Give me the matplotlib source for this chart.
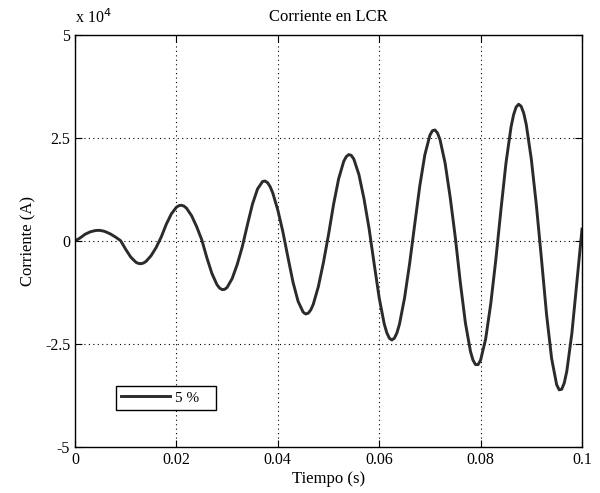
import matplotlib
matplotlib.use("Agg")
import matplotlib.pyplot as plt
from matplotlib.ticker import FixedLocator, FixedFormatter

# time samples (s) on a 1 ms grid
tiempo = [i / 1000 for i in range(101)]
# current in units of 1e4 A
corriente = [
    0.0, 0.075, 0.166, 0.224, 0.255, 0.257, 0.228, 0.172, 0.097, 0.009,
    -0.20, -0.389, -0.513, -0.549, -0.494, -0.356, -0.157,
    0.097, 0.407, 0.659, 0.821, 0.869, 0.797, 0.615, 0.348, 0.032,
    -0.40, -0.785, -1.058, -1.177, -1.125, -0.909, -0.565, -0.136,
    0.392, 0.895, 1.264, 1.446, 1.414, 1.170, 0.754, 0.226,
    -0.395, -0.998, -1.462, -1.725, -1.750, -1.533, -1.104, -0.520,
    0.153, 0.890, 1.511, 1.933, 2.099, 1.988, 1.613, 1.028, 0.307,
    -0.548, -1.380, -2.015, -2.356, -2.356, -2.015, -1.380, -0.548,
    0.400, 1.334, 2.092, 2.568, 2.695, 2.459, 1.892, 1.063, 0.100,
    -1.005, -1.983, -2.677, -2.997, -2.889, -2.372, -1.523, -0.455,
    0.747, 1.889, 2.766, 3.250, 3.270, 2.832, 1.992, 0.870,
    -0.426, -1.769, -2.843, -3.484, -3.595, -3.159, -2.241, -0.982,
    0.29,
]
# extra readings around the crests (half-ms points)
tiempo_crestas = [0.0045, 0.0055, 0.0125, 0.0135, 0.0205, 0.0215, 0.0285, 0.0295,
                  0.0375, 0.0385, 0.0455, 0.0465, 0.0535, 0.0545, 0.0615, 0.0625,
                  0.0635, 0.0705, 0.0715, 0.0785, 0.0795, 0.0865, 0.0875, 0.0885,
                  0.0955, 0.0965]
corriente_crestas = [0.26, 0.246, -0.542, -0.533, 0.860, 0.848, -1.138, -1.172,
                     1.457, 1.317, -1.769, -1.671, 2.049, 2.078, -2.225, -2.40,
                     -2.225, 2.678, 2.621, -2.889, -2.997, 3.061, 3.32, 3.107,
                     -3.609, -3.443]
xticks = [0, 0.02, 0.04, 0.06, 0.08, 0.1]
xticklabels = ["0", "0.02", "0.04", "0.06", "0.08", "0.1"]
yticks = [-5, -2.5, 0, 2.5, 5]
yticklabels = ["-5", "-2.5", "0", "2.5", "5"]

pares = sorted(zip(tiempo + tiempo_crestas, corriente + corriente_crestas))
t_all = [p[0] for p in pares]
i_all = [p[1] for p in pares]

plt.rcParams['font.family'] = ['Liberation Serif', 'DejaVu Serif']

fig = plt.figure(figsize=(6.0, 4.93), dpi=100)
ax = fig.add_axes([0.125, 0.093, 0.845, 0.836])
ax.plot(t_all, i_all, color='#2b2b2b', lw=2.1, label='5 %   ')
ax.set_xlim(0, 0.1)
ax.set_ylim(-5, 5)
ax.xaxis.set_major_locator(FixedLocator(xticks))
ax.xaxis.set_major_formatter(FixedFormatter(xticklabels))
ax.yaxis.set_major_locator(FixedLocator(yticks))
ax.yaxis.set_major_formatter(FixedFormatter(yticklabels))
ax.tick_params(direction='in', top=True, right=True, length=5, labelsize=11.5, color='black')
ax.grid(True, color='black', linestyle=(0, (1, 3)), linewidth=0.8)
for s in ax.spines.values():
    s.set_linewidth(1.0)
ax.set_title('Corriente en LCR', fontsize=12, pad=10)
ax.set_xlabel('Tiempo (s)', fontsize=12, labelpad=2)
ax.set_ylabel('Corriente (A)', fontsize=12, labelpad=6)
ax.text(0.0, 1.02, r'x 10$^{4}$', transform=ax.transAxes, fontsize=11.5, va='bottom', ha='left')
leg = ax.legend(loc='lower left', bbox_to_anchor=(0.081, 0.09), fancybox=False,
                edgecolor='black', framealpha=1, fontsize=11, handlelength=3.2,
                borderpad=0.35, handletextpad=0.3, borderaxespad=0)
leg.get_frame().set_linewidth(1.0)
fig.savefig('out.png', dpi=100)
